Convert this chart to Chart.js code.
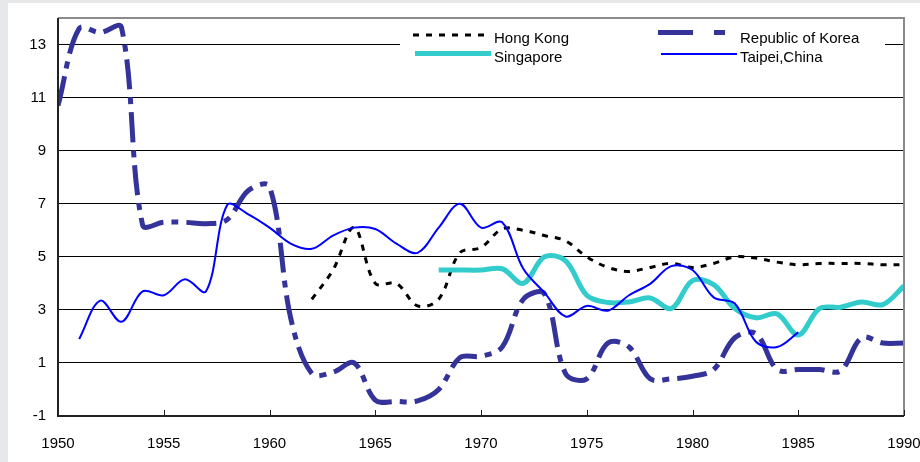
<!DOCTYPE html>
<html>
<head>
<meta charset="utf-8">
<script src="https://cdn.jsdelivr.net/npm/chart.js@4"></script>
<style>
  body { margin: 0; background: #fff; }
  canvas { display: block; }
</style>
</head>
<body>
<canvas id="myChart" width="920" height="462"></canvas>
<script>
//Datos (un valor por año, null = sin dato).
const anios = [1950, 1951, 1952, 1953, 1954, 1955, 1956, 1957, 1958, 1959,
  1960, 1961, 1962, 1963, 1964, 1965, 1966, 1967, 1968, 1969,
  1970, 1971, 1972, 1973, 1974, 1975, 1976, 1977, 1978, 1979,
  1980, 1981, 1982, 1983, 1984, 1985, 1986, 1987, 1988, 1989, 1990];

const hongKong = [null, null, null, null, null, null, null, null, null, null,
  null, null, 3.4, 4.5, 6.1, 4.0, 4.0, 3.15, 3.4, 5.15,
  5.35, 6.05, 6.0, 5.8, 5.6, 5.0, 4.6, 4.45, 4.6, 4.75,
  4.6, 4.75, 5.0, 4.95, 4.8, 4.7, 4.75, 4.75, 4.75, 4.7, 4.7];

const corea = [10.7, 13.6, 13.45, 13.65, 6.2, 6.3, 6.3, 6.25, 6.4, 7.5,
  7.65, 2.7, 0.6, 0.65, 1.0, -0.4, -0.45, -0.43, 0.0, 1.2,
  1.25, 1.6, 3.4, 3.6, 0.6, 0.4, 1.75, 1.6, 0.4, 0.4,
  0.5, 0.75, 1.95, 2.1, 0.75, 0.75, 0.75, 0.7, 1.95, 1.75, 1.75];

const singapur = [null, null, null, null, null, null, null, null, null, null,
  null, null, null, null, null, null, null, null, 4.5, 4.5,
  4.5, 4.55, 4.0, 5.0, 4.85, 3.55, 3.28, 3.3, 3.45, 3.05,
  4.1, 3.95, 3.05, 2.7, 2.85, 2.05, 3.05, 3.1, 3.3, 3.2, 3.9];

const taipei = [null, 1.9, 3.35, 2.55, 3.7, 3.55, 4.15, 3.7, 6.95, 6.6,
  6.1, 5.5, 5.3, 5.8, 6.1, 6.05, 5.5, 5.15, 6.1, 7.0,
  6.1, 6.3, 4.55, 3.65, 2.75, 3.15, 2.97, 3.55, 3.98, 4.65,
  4.5, 3.47, 3.24, 1.8, 1.6, 2.15, null, null, null, null, null];

const etiquetasY = [-1, 1, 3, 5, 7, 9, 11, 13];
const etiquetasX = [1950, 1955, 1960, 1965, 1970, 1975, 1980, 1985, 1990];

const nombres = ["Hong Kong", "Republic of Korea", "Singapore", "Taipei,China"];

//--------------------------------------------------------------------------------------------//
function puntos(valores) {
  return anios.map((a, i) => ({ x: a, y: valores[i] }));
}

//fondo gris con panel blanco
const fondo = {
  id: "fondo",
  beforeDraw(chart) {
    const ctx = chart.ctx;
    ctx.save();
    ctx.fillStyle = "#e7e8ea";
    ctx.fillRect(0, 0, chart.width, chart.height);
    ctx.fillStyle = "#ffffff";
    ctx.fillRect(8, 3, chart.width - 8, chart.height - 3);
    ctx.restore();
  },
};

//marco, marcas del eje X y leyenda
const marco = {
  id: "marco",
  afterDraw(chart) {
    const ctx = chart.ctx;
    const a = chart.chartArea;
    const x = chart.scales.x;
    ctx.save();
    // borde superior y derecho gris
    ctx.strokeStyle = "#8a8a8a";
    ctx.lineWidth = 2;
    ctx.beginPath();
    ctx.moveTo(a.left, a.top);
    ctx.lineTo(a.right, a.top);
    ctx.lineTo(a.right, a.bottom);
    ctx.stroke();
    // ejes
    ctx.strokeStyle = "#222";
    ctx.beginPath();
    ctx.moveTo(a.left, a.top);
    ctx.lineTo(a.left, a.bottom);
    ctx.lineTo(a.right, a.bottom);
    ctx.stroke();
    // marcas hacia adentro
    ctx.lineWidth = 1;
    etiquetasX.forEach((v) => {
      const px = Math.round(x.getPixelForValue(v)) + 0.5;
      ctx.beginPath();
      ctx.moveTo(px, a.bottom - 6);
      ctx.lineTo(px, a.bottom);
      ctx.stroke();
    });

    // leyenda
    ctx.fillStyle = "#ffffff";
    ctx.fillRect(400, 24, 485, 46);
    const ds = chart.data.datasets;
    const items = [
      { d: ds[0], x: 413, yl: 35, yt: 39 },
      { d: ds[1], x: 658, yl: 32.5, yt: 39 },
      { d: ds[2], x: 415, yl: 53.5, yt: 58 },
      { d: ds[3], x: 661, yl: 54, yt: 58 },
    ];
    items.forEach((it, i) => {
      ctx.strokeStyle = it.d.borderColor;
      ctx.lineWidth = it.d.borderWidth;
      ctx.setLineDash(i === 1 ? [35, 21, 11, 40] : it.d.borderDash || []);
      ctx.beginPath();
      ctx.moveTo(it.x, it.yl);
      ctx.lineTo(i === 1 ? 725 : it.x + 76, it.yl);
      ctx.stroke();
      ctx.setLineDash([]);
      ctx.fillStyle = "#000";
      ctx.font = "15px 'Liberation Sans', Arial, sans-serif";
      ctx.textBaseline = "middle";
      ctx.fillText(it.d.label, i % 2 === 0 ? 494 : 740, it.yt);
    });
    ctx.restore();
  },
};

//---------------------------------Preparando la Grafica---------------------------------------//
function prepararConfigGrafica() {
  const config = {
    type: "line",
    data: {
      datasets: [
        {
          label: nombres[0],
          data: puntos(hongKong),
          borderColor: "#000000",
          borderWidth: 3,
          borderDash: [6, 7],
          order: 3,
        },
        {
          label: nombres[1],
          data: puntos(corea),
          borderColor: "#333399",
          borderWidth: 5,
          borderDash: [30, 8, 7, 8],
          order: 2,
        },
        {
          label: nombres[2],
          data: puntos(singapur),
          borderColor: "#33cccc",
          borderWidth: 5,
          order: 1,
        },
        {
          label: nombres[3],
          data: puntos(taipei),
          borderColor: "#0000ff",
          borderWidth: 2,
          order: 0,
        },
      ],
    },
    options: {
      responsive: false,
      animation: false,
      devicePixelRatio: 1,
      layout: { padding: { top: 18, right: 16, left: 0, bottom: 0 } },
      elements: {
        point: { radius: 0 },
        line: { tension: 0.35, fill: false, borderCapStyle: "butt" },
      },
      plugins: { legend: { display: false }, tooltip: { enabled: false } },
      scales: {
        x: {
          type: "linear",
          min: 1950,
          max: 1990,
          afterBuildTicks: (s) => { s.ticks = etiquetasX.map((v) => ({ value: v })); },
          afterFit: (s) => { s.height = 46; s.paddingLeft = 0; s.paddingRight = 0; },
          grid: { display: false },
          border: { display: false },
          ticks: {
            padding: 11,
            color: "#000",
            font: { size: 15, family: "'Liberation Sans', Arial, sans-serif" },
            maxRotation: 0,
            callback: (v) => String(v),
          },
        },
        y: {
          min: -1,
          max: 14,
          afterBuildTicks: (s) => { s.ticks = etiquetasY.map((v) => ({ value: v })); },
          afterFit: (s) => { s.width = 58; s.paddingTop = 0; s.paddingBottom = 0; },
          grid: { color: "#000", lineWidth: 1, drawTicks: false },
          border: { display: false },
          ticks: {
            padding: 12,
            color: "#000",
            font: { size: 15, family: "'Liberation Sans', Arial, sans-serif" },
            callback: (v) => String(v),
          },
        },
      },
    },
    plugins: [fondo, marco],
  };
  return config;
}

const chartDOM = document.getElementById("myChart");
new Chart(chartDOM, prepararConfigGrafica());
</script>
</body>
</html>
